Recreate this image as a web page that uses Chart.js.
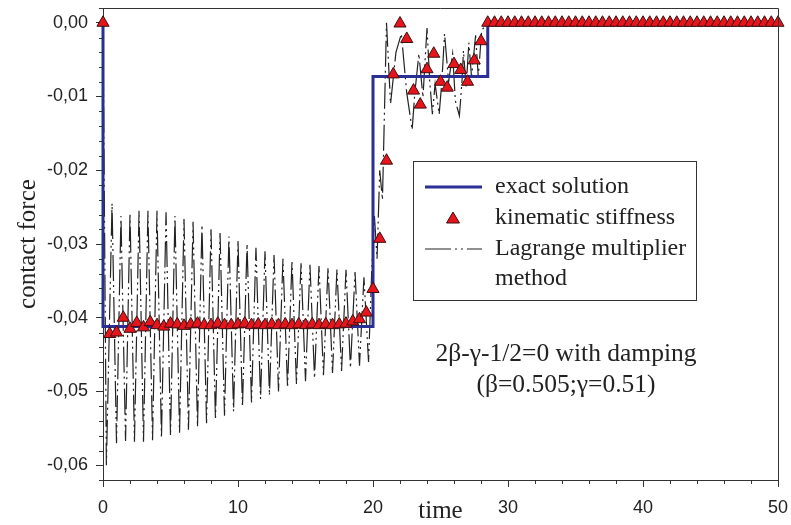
<!DOCTYPE html>
<html lang="en">
<head>
    <meta charset="UTF-8">
    <title>Contact force vs time</title>
    <style>
        body { margin: 0; background: #fff; }
        #wrap { width: 791px; height: 525px; }
    </style>
    <script src="https://cdn.jsdelivr.net/npm/chart.js"></script>
</head>
<body>
    <div id="wrap"><canvas id="forceChart" width="791" height="525"></canvas></div>

    <script>
        // exact solution (step function)
        const exactT = [0, 0, 20, 20, 28.5, 28.5, 50];
        const exactV = [0, -0.0412, -0.0412, -0.0073, -0.0073, 0, 0];

        // kinematic stiffness, sampled every 0.5 time units from t = 0
        const kinStep = 0.5;
        const kinV = [
            0, -0.0422, -0.0420, -0.0400, -0.0415, -0.0407, -0.0413, -0.0406, -0.0410, -0.0412,
            -0.0408, -0.0409, -0.0411, -0.0409, -0.0408, -0.0410, -0.0410, -0.0408, -0.0410, -0.0410,
            -0.0409, -0.0408, -0.0410, -0.0409, -0.0410, -0.0409, -0.0410, -0.0409, -0.0410, -0.0409,
            -0.0410, -0.0409, -0.0410, -0.0409, -0.0410, -0.0409, -0.0408, -0.0405, -0.0402, -0.0393,
            -0.0361, -0.0293, -0.0187, -0.0070, -0.0001, -0.0022, -0.0092, -0.0111, -0.0063, -0.0042,
            -0.0080, -0.0088, -0.0056, -0.0064, -0.0080, -0.0051, -0.0025,
            0, 0, 0, 0, 0, 0, 0, 0, 0, 0, 0, 0, 0, 0, 0, 0, 0, 0, 0, 0, 0, 0,
            0, 0, 0, 0, 0, 0, 0, 0, 0, 0, 0, 0, 0, 0, 0, 0, 0, 0, 0, 0, 0, 0
        ];

        // Lagrange multiplier method
        const lagT = [
            0, 0.25,
            0.67, 1.00, 1.33, 1.67, 2.00, 2.33, 2.67, 3.00, 3.33, 3.67, 4.00, 4.33, 4.67, 5.00,
            5.33, 5.67, 6.00, 6.33, 6.67, 7.00, 7.33, 7.67, 8.00, 8.33, 8.67, 9.00, 9.33, 9.67,
            10.00, 10.33, 10.67, 11.00, 11.33, 11.67, 12.00, 12.33, 12.67, 13.00, 13.33, 13.67,
            14.00, 14.33, 14.67, 15.00, 15.33, 15.67, 16.00, 16.33, 16.67, 17.00, 17.33, 17.67,
            18.00, 18.33, 18.67, 19.00, 19.33, 19.67,
            19.9, 20.1, 20.3, 20.5, 20.7, 21.0, 21.3, 21.7, 22.1, 22.5, 22.9, 23.1, 23.4, 23.7,
            24.0, 24.2, 24.4, 24.6, 24.9, 25.1, 25.3, 25.6, 25.9, 26.1, 26.4, 26.6, 26.7, 26.9,
            27.1, 27.3, 27.6, 27.8, 28.05, 28.3, 28.5, 50
        ];
        const lagV = [
            0, -0.0600,
            -0.0245, -0.0570, -0.0262, -0.0567, -0.0258, -0.0568, -0.0255, -0.0568, -0.0255, -0.0566,
            -0.0255, -0.0563, -0.0257, -0.0560, -0.0262, -0.0556, -0.0266, -0.0552, -0.0270, -0.0548,
            -0.0274, -0.0543, -0.0280, -0.0538, -0.0285, -0.0533, -0.0290, -0.0527, -0.0295, -0.0521,
            -0.0300, -0.0515, -0.0305, -0.0510, -0.0310, -0.0505, -0.0315, -0.0500, -0.0320, -0.0495,
            -0.0323, -0.0490, -0.0326, -0.0486, -0.0328, -0.0482, -0.0330, -0.0478, -0.0332, -0.0475,
            -0.0334, -0.0472, -0.0335, -0.0468, -0.0338, -0.0465, -0.0345, -0.0460,
            -0.0340, -0.0260, -0.0320, -0.0200, -0.0240, 0.0000, -0.0110, -0.0040, -0.0015, -0.0095,
            -0.0145, -0.0095, -0.0042, -0.0101, -0.0007, -0.0079, -0.0124, -0.0083, -0.0124, -0.0080,
            -0.0015, -0.0080, -0.0042, -0.0106, -0.0126, -0.0077, -0.0038, -0.0088, -0.0027, -0.0074,
            -0.0017, -0.0074, -0.0010, -0.0005, 0, 0
        ];

        const yMajor = [-0.06, -0.05, -0.04, -0.03, -0.02, -0.01, 0];
        const xMajor = [0, 10, 20, 30, 40, 50];

        const BLUE = '#2a2f96';
        const RED = '#e8141c';
        const LAG_DASH = [26, 4, 2, 4, 2, 4];
        const serif = '"Liberation Serif", "Times New Roman", serif';
        const sans = '"Liberation Sans", Arial, sans-serif';

        const pts = (xs, ys) => ys.map((v, i) => ({ x: xs[i], y: v }));

        // frame, minor ticks, titles, legend and note
        const decorations = {
            id: 'decorations',
            afterDraw(chart) {
                const { ctx, chartArea: a, scales } = chart;
                const xs = scales.x, ys = scales.y;
                ctx.save();
                ctx.strokeStyle = '#333';
                ctx.lineWidth = 1;
                ctx.beginPath();
                ctx.moveTo(a.left, a.top + 0.5);
                ctx.lineTo(a.right + 0.5, a.top + 0.5);
                ctx.lineTo(a.right + 0.5, a.bottom);
                // minor ticks
                for (let v = 2; v < 50; v += 2) {
                    if (v % 10 === 0) continue;
                    const px = Math.round(xs.getPixelForValue(v)) + 0.5;
                    ctx.moveTo(px, a.bottom);
                    ctx.lineTo(px, a.bottom + 4);
                }
                for (let k = -31; k <= 1; k++) {
                    if (k % 5 === 0) continue;
                    const py = Math.round(ys.getPixelForValue(k * 0.002)) + 0.5;
                    ctx.moveTo(a.left, py);
                    ctx.lineTo(a.left - 4, py);
                }
                ctx.stroke();

                // axis titles
                ctx.fillStyle = '#222';
                ctx.font = '25px ' + serif;
                ctx.textAlign = 'center';
                ctx.textBaseline = 'middle';
                ctx.fillText('time', (a.left + a.right) / 2, 511);
                ctx.save();
                ctx.translate(28, (a.top + a.bottom) / 2);
                ctx.rotate(-Math.PI / 2);
                ctx.fillText('contact force', 0, 0);
                ctx.restore();

                // legend
                const lx = 413, ly = 161, lw = 283, lh = 139;
                ctx.fillStyle = '#fff';
                ctx.fillRect(lx, ly, lw, lh);
                ctx.strokeStyle = '#333';
                ctx.strokeRect(lx + 0.5, ly + 0.5, lw, lh);

                ctx.strokeStyle = BLUE;
                ctx.lineWidth = 3;
                ctx.beginPath();
                ctx.moveTo(425, 187);
                ctx.lineTo(482, 187);
                ctx.stroke();

                ctx.fillStyle = RED;
                ctx.strokeStyle = '#3a1010';
                ctx.lineWidth = 1;
                ctx.beginPath();
                ctx.moveTo(453, 212);
                ctx.lineTo(459.5, 223);
                ctx.lineTo(446.5, 223);
                ctx.closePath();
                ctx.fill();
                ctx.stroke();

                ctx.strokeStyle = '#222';
                ctx.lineWidth = 1.2;
                ctx.setLineDash(LAG_DASH);
                ctx.beginPath();
                ctx.moveTo(425, 249);
                ctx.lineTo(482, 249);
                ctx.stroke();
                ctx.setLineDash([]);

                ctx.fillStyle = '#222';
                ctx.font = '24px ' + serif;
                ctx.textAlign = 'left';
                ctx.fillText('exact solution', 495, 187);
                ctx.fillText('kinematic stiffness', 495, 218);
                ctx.fillText('Lagrange multiplier', 495, 249);
                ctx.fillText('method', 495, 279);

                // note
                ctx.font = '25.5px ' + serif;
                ctx.textAlign = 'center';
                ctx.fillText('2\u03B2-\u03B3-1/2=0 with damping', 566, 354);
                ctx.fillText('(\u03B2=0.505;\u03B3=0.51)', 566, 385);
                ctx.restore();
            }
        };

        const ctx = document.getElementById('forceChart').getContext('2d');
        const forceChart = new Chart(ctx, {
            type: 'line',
            data: {
                datasets: [
                    {
                        label: 'kinematic stiffness',
                        data: kinV.map((v, i) => ({ x: i * kinStep, y: v })),
                        showLine: false,
                        pointStyle: 'triangle',
                        pointRadius: 7,
                        pointBackgroundColor: RED,
                        pointBorderColor: '#3a1010',
                        pointBorderWidth: 1,
                        clip: false
                    },
                    {
                        label: 'exact solution',
                        data: pts(exactT, exactV),
                        borderColor: BLUE,
                        borderWidth: 3,
                        pointRadius: 0,
                        tension: 0,
                        clip: 2
                    },
                    {
                        label: 'Lagrange multiplier method',
                        data: pts(lagT, lagV),
                        borderColor: '#222',
                        borderWidth: 1.2,
                        borderDash: LAG_DASH,
                        pointRadius: 0,
                        tension: 0
                    }
                ]
            },
            options: {
                responsive: false,
                animation: false,
                devicePixelRatio: 1,
                layout: { padding: { top: 7, right: 13, left: 0, bottom: 0 } },
                plugins: {
                    legend: { display: false },
                    tooltip: { enabled: false }
                },
                scales: {
                    x: {
                        type: 'linear',
                        min: 0,
                        max: 50,
                        afterBuildTicks: s => { s.ticks = xMajor.map(v => ({ value: v })); },
                        afterFit: s => { s.height = 45; s.paddingLeft = 0; s.paddingRight = 0; },
                        border: { display: true, color: '#333', width: 1 },
                        grid: { drawOnChartArea: false, tickLength: 7, tickColor: '#333' },
                        ticks: {
                            padding: 10,
                            color: '#222',
                            maxRotation: 0,
                            font: { family: sans, size: 18 }
                        }
                    },
                    y: {
                        type: 'linear',
                        min: -0.062,
                        max: 0.002,
                        afterBuildTicks: s => { s.ticks = yMajor.map(v => ({ value: v })); },
                        afterFit: s => { s.width = 103; s.paddingTop = 0; s.paddingBottom = 0; },
                        border: { display: true, color: '#333', width: 1 },
                        grid: { drawOnChartArea: false, tickLength: 7, tickColor: '#333' },
                        ticks: {
                            padding: 8,
                            color: '#222',
                            font: { family: sans, size: 18 },
                            callback: v => Math.abs(v) < 1e-9 ? '0,00' : v.toFixed(2).replace('.', ',')
                        }
                    }
                }
            },
            plugins: [decorations]
        });
    </script>
</body>
</html>
